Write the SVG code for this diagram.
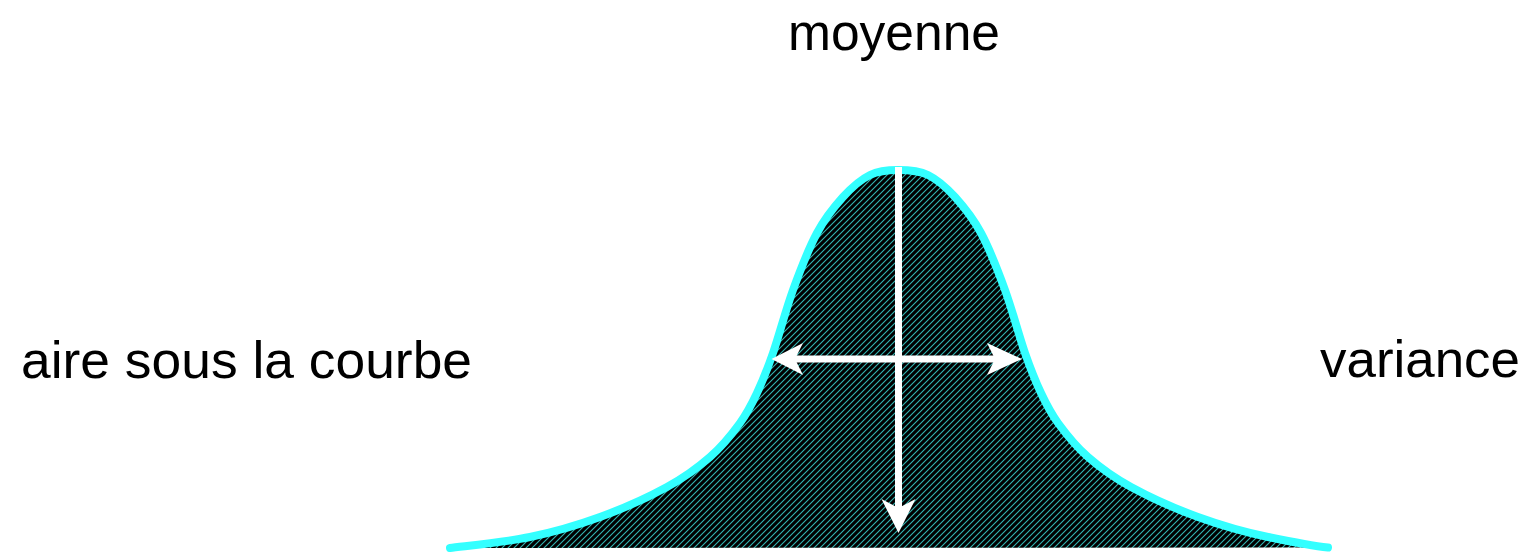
<svg xmlns="http://www.w3.org/2000/svg" width="1529" height="552" viewBox="0 0 1529 552">
<style>
.lbl{font-family:"Liberation Sans",Arial,sans-serif;font-size:52px;fill:#000;}
.curve{fill:none;stroke:#33ffff;stroke-width:8;stroke-linecap:round;stroke-linejoin:round;}
.axis{stroke:#fff;stroke-width:7;fill:none;}
.head{fill:#fff;stroke:none;}
</style>
<defs>
<pattern id="hatch" patternUnits="userSpaceOnUse" width="6" height="6">
<rect width="6" height="6" fill="#000"/>
<path d="M-1,7 L7,-1 M-1,1 L1,-1 M5,7 L7,5" stroke="#33b5b2" stroke-width="1.1"/>
</pattern>
<path id="bell" d="M450,548 C463.3,546.2 505,542.2 530,537 C555,531.8 577.2,525.3 600,517 C622.8,508.7 648.7,497 667,487 C685.3,477 697.8,467.7 710,457 C722.2,446.3 732.2,433.7 740,423 C747.8,412.3 751.5,404.7 757,393 C762.5,381.3 767,370.2 773,353 C779,335.8 785.7,310 793,290 C800.3,270 808.7,248.5 817,233 C825.3,217.5 834.2,206.7 843,197 C851.8,187.3 860.8,179.5 870,175 C879.2,170.5 888.3,170 898,170 C907.7,170 918.8,170.5 928,175 C937.2,179.5 946.2,187.3 955,197 C963.8,206.7 972.7,217.5 981,233 C989.3,248.5 997.7,270 1005,290 C1012.3,310 1019,335.8 1025,353 C1031,370.2 1035.5,381.3 1041,393 C1046.5,404.7 1050.2,412.3 1058,423 C1065.8,433.7 1075.8,446.3 1088,457 C1100.2,467.7 1112.7,477 1131,487 C1149.3,497 1175.2,508.7 1198,517 C1220.8,525.3 1243,531.8 1268,537 C1293,542.2 1318,546.5 1328,547.5"/>
</defs>
<g id="bell-curve">
<use href="#bell" fill="url(#hatch)"/>
<use href="#bell" class="curve"/>
</g>
<g id="connectors">
<line class="axis" x1="898.5" y1="167" x2="898.5" y2="512"/>
<path class="head" d="M898.5,533 L881.5,499 L898.5,508 L915.5,499 Z"/>
<line class="axis" x1="792" y1="359" x2="1002" y2="359"/>
<path class="head" d="M771.5,359 L803,343 L795,359 L803,375 Z"/>
<path class="head" d="M1022,359 L987,343 L995,359 L987,375 Z"/>
</g>
<g id="label-moyenne"><text class="lbl" x="788" y="50" textLength="212" lengthAdjust="spacingAndGlyphs">moyenne</text></g>
<g id="label-aire"><text class="lbl" x="21" y="378" textLength="451" lengthAdjust="spacingAndGlyphs">aire sous la courbe</text></g>
<g id="label-variance"><text class="lbl" x="1320" y="377" textLength="200" lengthAdjust="spacingAndGlyphs">variance</text></g>
</svg>
